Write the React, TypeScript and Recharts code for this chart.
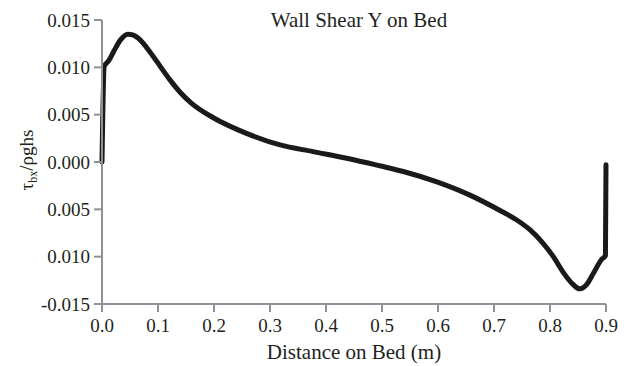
import React from 'react';
import { LineChart, Line, XAxis, YAxis } from 'recharts';

// distance along the bed (m) and normalised wall shear
const distance = [
  0.0, 0.004, 0.012, 0.022, 0.033, 0.046, 0.056, 0.068, 0.086, 0.104,
  0.121, 0.139, 0.16, 0.198, 0.259, 0.318, 0.377, 0.437, 0.496, 0.538,
  0.598, 0.657, 0.71, 0.74, 0.765, 0.785, 0.806, 0.823, 0.839, 0.853,
  0.866, 0.878, 0.892, 0.899, 0.9,
];
const shear = [
  0.0, 0.0101, 0.0107, 0.0118, 0.0129, 0.0135, 0.0134, 0.0129, 0.0116, 0.0101,
  0.0087, 0.0074, 0.0062, 0.0047, 0.003, 0.0018, 0.0011, 0.0004, -0.0004, -0.001,
  -0.0021, -0.0035, -0.0051, -0.0061, -0.0072, -0.0084, -0.01, -0.0116, -0.0128, -0.0134,
  -0.0129, -0.0117, -0.0103, -0.0099, -0.0003,
];

const xTicks = [0, 0.1, 0.2, 0.3, 0.4, 0.5, 0.6, 0.7, 0.8, 0.9];
const yTicks = [0.015, 0.01, 0.005, 0, -0.005, -0.01, -0.015];
const yTickLabels = ['0.015', '0.010', '0.005', '0.000', '0.005', '0.010', '-0.015'];

const data = distance.map((d, i) => ({ d, s: shear[i] }));

const FONT = '"Liberation Serif", Tinos, "Times New Roman", "DejaVu Serif", serif';
const AXIS = '#8d9298';
const INK = '#231f20';

const yLabel = () => (
  <text
    x={33}
    y={160}
    transform="rotate(-90, 33, 160)"
    textAnchor="middle"
    style={{ fontFamily: FONT, fontSize: 19 }}
    fill={INK}
  >
    <tspan>τ</tspan>
    <tspan style={{ fontSize: 12 }} dy={4}>bx</tspan>
    <tspan dy={-4}>/ρghs</tspan>
  </text>
);

const xLabel = (props: any) => {
  const vb = props.viewBox || {};
  return (
    <text
      x={vb.x + vb.width / 2}
      y={359}
      textAnchor="middle"
      style={{ fontFamily: FONT, fontSize: 21 }}
      fill={INK}
    >
      Distance on Bed (m)
    </text>
  );
};

const tickStyle = { fontSize: 19, fill: INK, style: { fontFamily: FONT } };

export default function App() {
  return (
    <div style={{ position: 'absolute', left: 0, top: 0, width: 628, height: 366, background: '#fff', fontFamily: FONT }}>
      <LineChart
        width={628}
        height={366}
        data={data}
        margin={{ top: 20, right: 22, bottom: 0, left: 0 }}
        style={{ fontFamily: FONT }}
      >
        <XAxis
          type="number"
          dataKey="d"
          domain={[0, 0.9]}
          ticks={xTicks}
          tickFormatter={(v: number) => v.toFixed(1)}
          height={62}
          tickSize={8}
          tickMargin={7}
          axisLine={{ stroke: AXIS, strokeWidth: 2 }}
          tickLine={{ stroke: AXIS, strokeWidth: 2 }}
          tick={tickStyle}
          interval={0}
          label={xLabel}
        />
        <YAxis
          type="number"
          domain={[-0.015, 0.015]}
          ticks={yTicks}
          tickFormatter={(v: number) => {
            const k = yTicks.findIndex((t) => Math.abs(t - v) < 1e-9);
            return k >= 0 ? yTickLabels[k] : '';
          }}
          width={102}
          tickSize={8}
          tickMargin={4}
          axisLine={{ stroke: AXIS, strokeWidth: 2 }}
          tickLine={{ stroke: AXIS, strokeWidth: 2 }}
          tick={tickStyle}
          interval={0}
          label={yLabel}
        />
        <Line
          type="monotone"
          dataKey="s"
          stroke="#1a1a1a"
          strokeWidth={5}
          dot={false}
          strokeLinejoin="round"
          strokeLinecap="round"
          isAnimationActive={false}
        />
      </LineChart>
      <div
        style={{
          position: 'absolute',
          left: 359,
          top: 10,
          transform: 'translateX(-50%)',
          whiteSpace: 'nowrap',
          fontSize: 21,
          lineHeight: '21px',
          color: INK,
        }}
      >
        Wall Shear Y on Bed
      </div>
    </div>
  );
}
